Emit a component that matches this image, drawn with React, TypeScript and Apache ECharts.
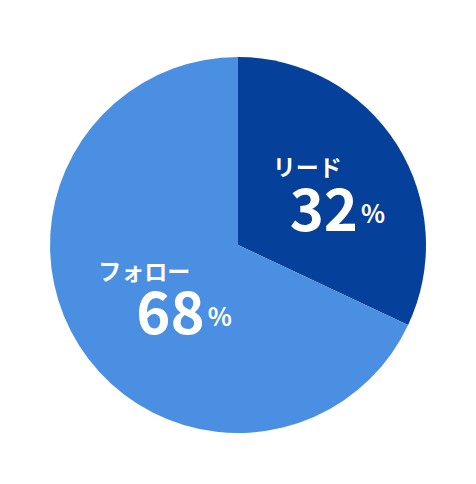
import { useEffect, useRef } from 'react';
import * as echarts from 'echarts';

const names = ['リード', 'フォロー'];
const values = [32, 68];
const colors = ['#05409A', '#4A8FE2'];
const valueIndent = [17, 38];

export default function App() {
  const ref = useRef<HTMLDivElement | null>(null);

  useEffect(() => {
    if (!ref.current) return;
    const chart = echarts.init(ref.current, undefined, { renderer: 'svg' });

    const font = { color: '#fff', fontFamily: 'Noto Sans CJK JP', fontWeight: 'bold' as const, align: 'left' as const };

    chart.setOption({
      animation: false,
      series: [
        {
          type: 'pie',
          center: [230, 237],
          radius: ['0%', 188],
          startAngle: 90,
          clockwise: true,
          label: {
            show: true,
            position: 'inside',
            color: '#fff',
            fontFamily: 'Noto Sans CJK JP',
            align: 'left',
            formatter: (p: any) => `{n|${p.name}}\n{v|${p.value}}{p|%}`,
          },
          labelLine: { show: false },
          emphasis: { disabled: true },
          data: names.map((name, i) => ({
            name,
            value: values[i],
            itemStyle: { color: colors[i] },
            label: {
              rich: {
                n: { ...font, fontSize: 23, lineHeight: 25, padding: [0, 0, 0, 18] },
                v: { ...font, fontSize: 58, lineHeight: 54, padding: [0, 0, 0, valueIndent[i] + 18] },
                p: { ...font, fontSize: 25, lineHeight: 54, padding: [12, 0, 0, 3] },
              },
            },
          })),
        },
      ],
    });

    return () => chart.dispose();
  }, []);

  return <div ref={ref} style={{ width: 460, height: 468 }} />;
}
